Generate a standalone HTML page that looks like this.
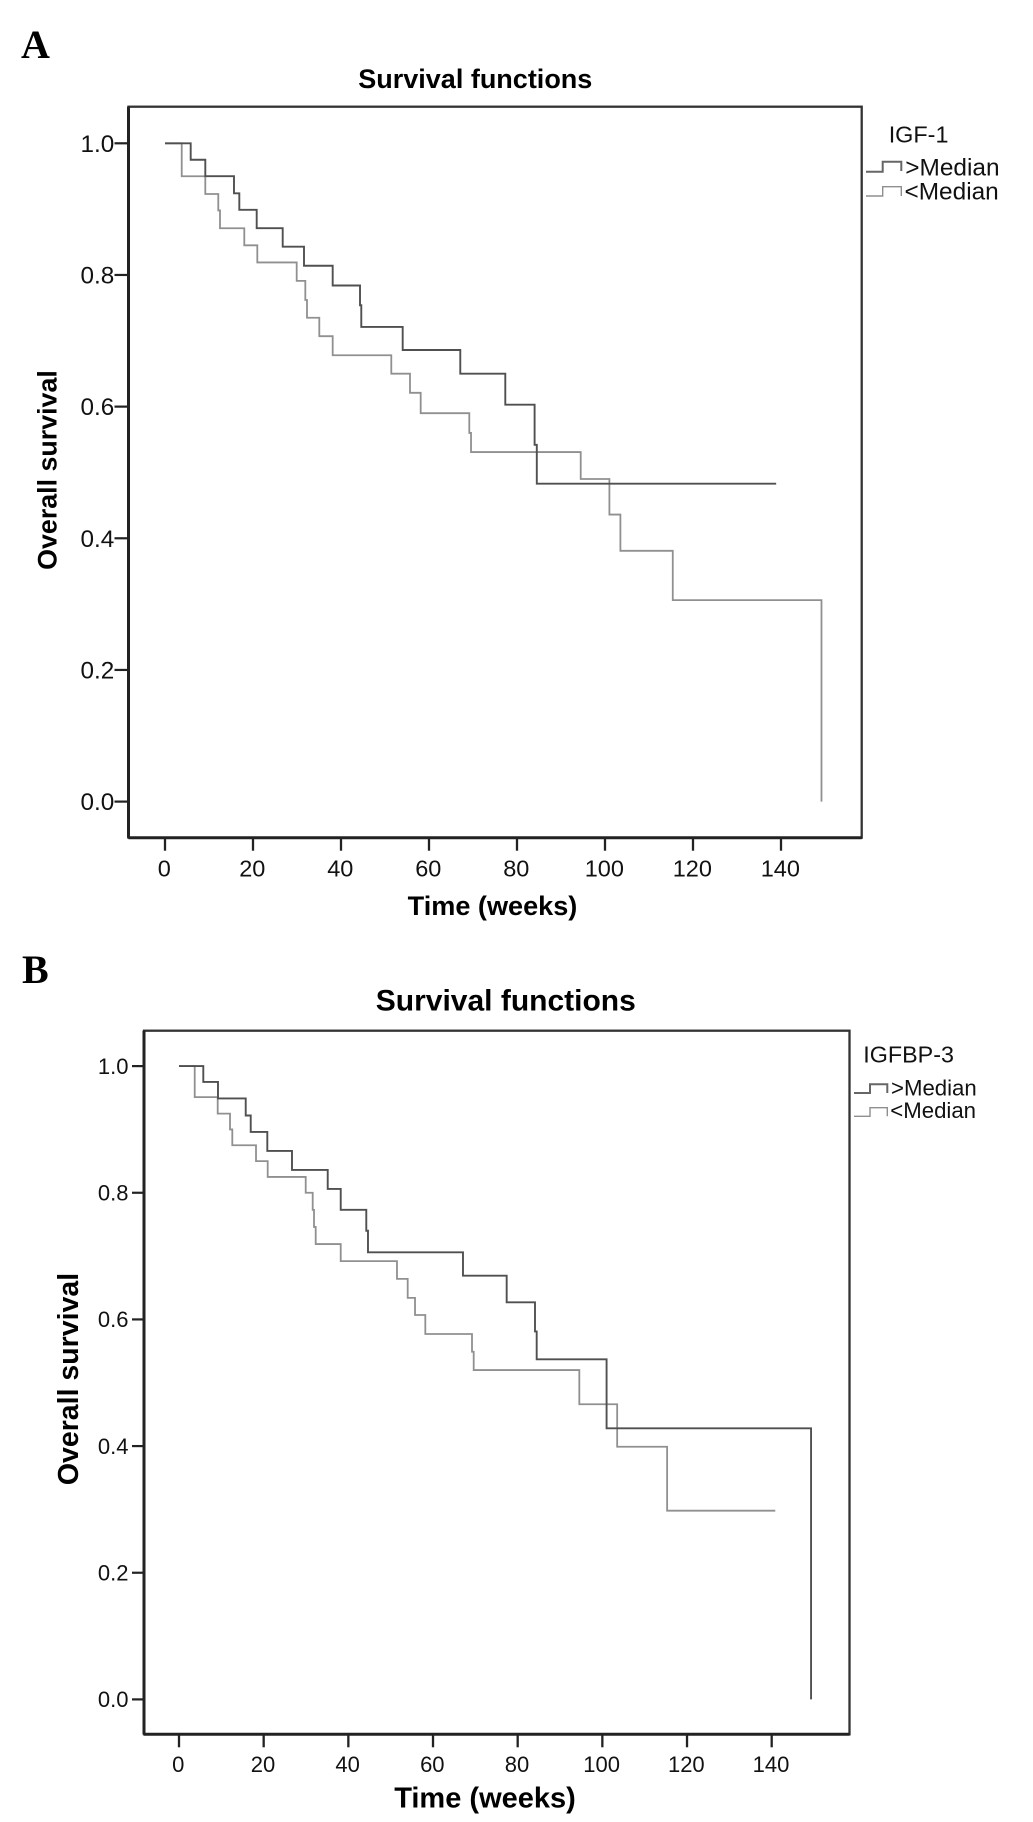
<!DOCTYPE html>
<html lang="en">
<head>
<meta charset="utf-8">
<title>Survival functions</title>
<style>
html,body{margin:0;padding:0;background:#fff;}
svg{display:block;}
text{font-family:"Liberation Sans",Arial,sans-serif;fill:#111;}
.panel-letter{font-family:"Liberation Serif","Times New Roman",serif;font-weight:bold;font-size:40px;fill:#000;}
.bold{font-weight:bold;}
</style>
</head>
<body>
<svg id="figure" xmlns="http://www.w3.org/2000/svg" width="1033" height="1822" viewBox="0 0 1033 1822">
  <rect x="0" y="0" width="1033" height="1822" fill="#fff"/>

  <g id="panel-a">
    <text class="panel-letter" x="21" y="58">A</text>
    <text class="bold" x="475.3" y="88" font-size="27" text-anchor="middle" style="fill:#000">Survival functions</text>
    <text class="bold" transform="translate(56.5,470) rotate(-90)" font-size="26.8" text-anchor="middle" style="fill:#000">Overall survival</text>
    <text class="bold" x="492.5" y="915" font-size="27.1" text-anchor="middle" style="fill:#000">Time (weeks)</text>
    <text x="888.7" y="142.7" font-size="23.4">IGF-1</text>
    <path d="M866 171.7H882.7V161.7H901.3V171" fill="none" stroke="#666" stroke-width="2"/>
    <text x="905.3" y="175.3" font-size="24.4">&gt;Median</text>
    <path d="M866 196H882.7V186.7H901.3V196" fill="none" stroke="#8f8f8f" stroke-width="1.4"/>
    <text x="904.5" y="199.3" font-size="24.4">&lt;Median</text>
  </g>

  <g id="panel-b">
    <text class="panel-letter" x="22" y="983">B</text>
    <text class="bold" x="505.8" y="1010.7" font-size="30" text-anchor="middle" style="fill:#000">Survival functions</text>
    <text class="bold" transform="translate(78,1379) rotate(-90)" font-size="28.5" text-anchor="middle" style="fill:#000">Overall survival</text>
    <text class="bold" x="485" y="1807.3" font-size="29" text-anchor="middle" style="fill:#000">Time (weeks)</text>
    <text x="863.3" y="1062.7" font-size="23.3">IGFBP-3</text>
    <path d="M854 1093H870V1084.3H887.3V1093" fill="none" stroke="#666" stroke-width="2"/>
    <text x="891" y="1095.7" font-size="22.2">&gt;Median</text>
    <path d="M854 1116.3H870V1107.7H887.3V1116.3" fill="none" stroke="#8f8f8f" stroke-width="1.4"/>
    <text x="890.3" y="1118" font-size="22.2">&lt;Median</text>
  </g>
</svg>

<script>
// Shared tick labels
const xTickValues = [0, 20, 40, 60, 80, 100, 120, 140];
const aYTickValues = [0.0, 0.2, 0.4, 0.6, 0.8, 1.0];
const bYTickValues = [0.0, 0.2, 0.4, 0.6, 0.8, 1.0];

// Panel A: IGF-1 >Median
const aHighTimes = [5.84, 9.16, 15.68, 16.89, 20.84, 26.75, 31.59, 38.11, 44.32, 44.61, 54.02, 67.11, 77.34, 84.0, 84.5, 138.9];
const aHighSurvival = [0.975, 0.95, 0.924, 0.899, 0.871, 0.843, 0.814, 0.784, 0.754, 0.721, 0.686, 0.65, 0.603, 0.542, 0.483, 0.483];

// Panel A: IGF-1 <Median
const aLowTimes = [3.8, 9.16, 12.11, 12.5, 18.02, 20.98, 29.93, 31.89, 32.27, 35.07, 38.11, 51.43, 55.68, 58.11, 69.16, 69.55, 94.48, 101.0, 103.5, 115.4, 149.2];
const aLowSurvival = [0.95, 0.923, 0.898, 0.871, 0.845, 0.819, 0.791, 0.762, 0.735, 0.707, 0.678, 0.65, 0.621, 0.59, 0.56, 0.531, 0.49, 0.436, 0.381, 0.306, 0];

// Panel B: IGFBP-3 >Median
const bHighTimes = [5.74, 9.21, 15.76, 16.94, 20.86, 26.69, 35.13, 38.2, 44.24, 44.64, 67.08, 77.4, 84.09, 84.49, 101.0, 149.3];
const bHighSurvival = [0.975, 0.949, 0.922, 0.896, 0.866, 0.836, 0.806, 0.773, 0.74, 0.706, 0.669, 0.627, 0.581, 0.537, 0.428, 0];

// Panel B: IGFBP-3 <Median
const bLowTimes = [3.71, 9.14, 12.05, 12.59, 18.19, 20.95, 29.93, 31.58, 31.89, 32.29, 38.2, 51.49, 54.02, 55.75, 58.18, 69.21, 69.61, 94.56, 103.5, 115.3, 140.85];
const bLowSurvival = [0.951, 0.925, 0.9, 0.875, 0.85, 0.825, 0.8, 0.773, 0.746, 0.719, 0.692, 0.664, 0.634, 0.607, 0.577, 0.549, 0.52, 0.466, 0.399, 0.298, 0.298];

const NS = 'http://www.w3.org/2000/svg';

function makeLine(parent, x1, y1, x2, y2, width, color) {
  const el = document.createElementNS(NS, 'line');
  el.setAttribute('x1', x1);
  el.setAttribute('y1', y1);
  el.setAttribute('x2', x2);
  el.setAttribute('y2', y2);
  el.setAttribute('stroke', color);
  el.setAttribute('stroke-width', width);
  parent.appendChild(el);
  return el;
}

function stepPath(times, survival, xScale, yScale) {
  let d = 'M' + xScale(0) + ' ' + yScale(1);
  for (let i = 0; i < times.length; i++) {
    d += 'H' + xScale(times[i]) + 'V' + yScale(survival[i]);
  }
  return d;
}

function drawPanel(groupId, layout, yTicks, highTimes, highSurvival, lowTimes, lowSurvival) {
  const g = document.getElementById(groupId);
  const xScale = function (t) { return layout.x0 + layout.xPerWeek * t; };
  const yScale = function (s) { return layout.y0 - layout.yPerUnit * s; };

  const frame = document.createElementNS(NS, 'rect');
  
  
  frame.setAttribute('x', layout.left);
  frame.setAttribute('y', layout.top);
  frame.setAttribute('width', layout.right - layout.left);
  frame.setAttribute('height', layout.bottom - layout.top);
  frame.setAttribute('fill', 'none');
  frame.setAttribute('stroke', '#333');
  frame.setAttribute('stroke-width', '2.3');
  g.appendChild(frame);

  const leftAxis = makeLine(g, layout.left, layout.top, layout.left, layout.bottom, 3, '#222');
  
  

  const bottomAxis = makeLine(g, layout.left, layout.bottom, layout.right, layout.bottom, 3, '#222');
  
  

  yTicks.forEach(function (v) {
    const tick = makeLine(g, layout.left - layout.yTickLen, yScale(v), layout.left, yScale(v), 2.2, '#222');
    
    

    const label = document.createElementNS(NS, 'text');
    
    
    label.setAttribute('x', layout.yLabelRight);
    label.setAttribute('y', yScale(v) + layout.yLabelDy);
    label.setAttribute('font-size', layout.yLabelSize);
    label.setAttribute('text-anchor', 'end');
    label.textContent = v.toFixed(1);
    g.appendChild(label);
  });

  xTickValues.forEach(function (v) {
    const tick = makeLine(g, xScale(v), layout.bottom, xScale(v), layout.bottom + layout.xTickLen, 2.3, '#222');
    
    

    const label = document.createElementNS(NS, 'text');
    
    
    label.setAttribute('x', xScale(v) - 0.7);
    label.setAttribute('y', layout.xLabelY);
    label.setAttribute('font-size', layout.xLabelSize);
    label.setAttribute('text-anchor', 'middle');
    label.textContent = String(v);
    g.appendChild(label);
  });

  const lowLine = document.createElementNS(NS, 'path');
  
  
  lowLine.setAttribute('d', stepPath(lowTimes, lowSurvival, xScale, yScale));
  lowLine.setAttribute('fill', 'none');
  lowLine.setAttribute('stroke', '#909090');
  lowLine.setAttribute('stroke-width', '1.8');
  g.appendChild(lowLine);

  const highLine = document.createElementNS(NS, 'path');
  
  
  highLine.setAttribute('d', stepPath(highTimes, highSurvival, xScale, yScale));
  highLine.setAttribute('fill', 'none');
  highLine.setAttribute('stroke', '#505050');
  highLine.setAttribute('stroke-width', '1.9');
  g.appendChild(highLine);
}

drawPanel('panel-a', {
  left: 128.5, right: 861.7, top: 106.7, bottom: 837.7,
  x0: 165, xPerWeek: 4.4, y0: 801.6, yPerUnit: 658.3,
  yTickLen: 14, xTickLen: 13,
  yLabelRight: 114.3, yLabelDy: 8.5, yLabelSize: 24.3,
  xLabelY: 876.3, xLabelSize: 23.5
}, aYTickValues, aHighTimes, aHighSurvival, aLowTimes, aLowSurvival);

drawPanel('panel-b', {
  left: 144, right: 849.5, top: 1030.7, bottom: 1734.3,
  x0: 179, xPerWeek: 4.2335, y0: 1699.4, yPerUnit: 633.3,
  yTickLen: 12, xTickLen: 13,
  yLabelRight: 128.5, yLabelDy: 7.7, yLabelSize: 22,
  xLabelY: 1772, xLabelSize: 22
}, bYTickValues, bHighTimes, bHighSurvival, bLowTimes, bLowSurvival);
</script>
</body>
</html>
